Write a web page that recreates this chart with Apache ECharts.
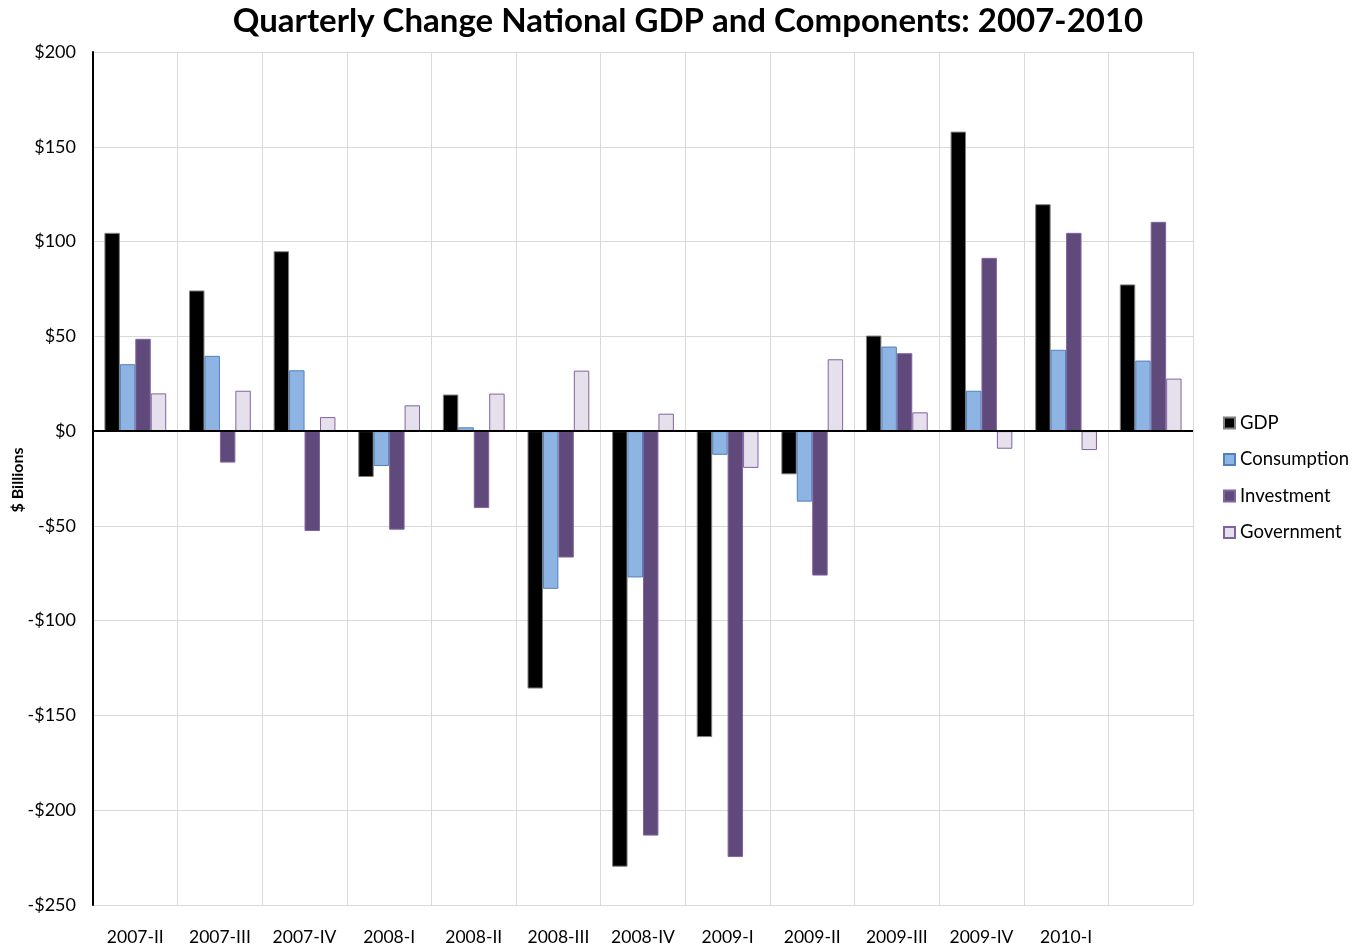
<!DOCTYPE html>
<html>
<head>
<meta charset="utf-8">
<script src="https://cdn.jsdelivr.net/npm/echarts@6/dist/echarts.min.js"></script>
<style>
html,body{margin:0;padding:0;background:#fff;}
#chart{width:1355px;height:948px;}
</style>
</head>
<body>
<div id="chart"></div>
<script>
const categories = ['2007-II','2007-III','2007-IV','2008-I','2008-II','2008-III','2008-IV','2009-I','2009-II','2009-III','2009-IV','2010-I','2010-II'];
const tickLabels = ['2007-II','2007-III','2007-IV','2008-I','2008-II','2008-III','2008-IV','2009-I','2009-II','2009-III','2009-IV','2010-I',''];
const gdp = [104.6, 74.2, 94.9, -24.2, 19.3, -135.8, -229.8, -161.4, -22.8, 50.4, 158.0, 119.7, 77.4];
const consumption = [35.3, 39.7, 32.1, -18.4, 2.0, -83.2, -77.2, -12.5, -37.2, 44.6, 21.3, 42.9, 37.2];
const investment = [48.7, -16.6, -52.7, -52.0, -40.6, -66.7, -213.4, -224.7, -76.2, 41.1, 91.4, 104.6, 110.4];
const government = [19.9, 21.3, 7.4, 13.6, 19.8, 31.9, 9.2, -19.4, 37.9, 9.9, -9.3, -10.0, 27.7];
const yAxisTitle = '$ Billions';

const FONT = 'Lato, "Open Sans", sans-serif';
const chart = echarts.init(document.getElementById('chart'));

function bar(name, data, color, border) {
  return {
    name: name, type: 'bar', data: data,
    barGap: '0%', barCategoryGap: '27%',
    itemStyle: { color: color, borderColor: border, borderWidth: 1 }
  };
}

const series = [
  bar('GDP', gdp, '#000000', '#7f7f7f'),
  bar('Consumption', consumption, '#8EB4E3', '#4F81BD'),
  bar('Investment', investment, '#604A7B', '#8064A2'),
  bar('Government', government, '#E6E0EC', '#8064A2')
];
series[0].markLine = {
  silent: true, symbol: 'none', z: 10,
  label: { show: false },
  lineStyle: { color: '#000', width: 2, type: 'solid' },
  data: [{ yAxis: 0 }]
};

chart.setOption({
  animation: false,
  backgroundColor: '#fff',
  title: {
    text: 'Quarterly Change National GDP and Components: 2007-2010',
    left: 683, top: 0, textAlign: 'center',
    textStyle: { fontFamily: FONT, fontWeight: 'bold', fontSize: 33, color: '#000' }
  },
  graphic: [{
    type: 'text', x: 18, y: 480, rotation: Math.PI / 2,
    style: {
      text: yAxisTitle, fontFamily: FONT, fontWeight: 'bold', fontSize: 16, fill: '#000',
      align: 'center', verticalAlign: 'middle'
    }
  }],
  legend: {
    orient: 'vertical', left: 1218, top: 407,
    itemWidth: 11, itemHeight: 11, itemGap: 14.5,
    icon: 'rect',
    textStyle: { fontFamily: FONT, fontSize: 18.5, color: '#000', lineHeight: 22 },
    data: ['GDP','Consumption','Investment','Government']
  },
  grid: { left: 93, right: 162, top: 52, bottom: 43, containLabel: false, outerBoundsMode: 'none' },
  xAxis: {
    type: 'category',
    data: categories,
    axisLine: { show: false },
    axisTick: { show: false, interval: 0 },
    splitLine: { show: true, interval: 0, lineStyle: { color: '#d9d9d9', width: 1 } },
    axisLabel: {
      interval: 0, margin: 23, fontFamily: FONT, fontSize: 17.5, color: '#000',
      formatter: function (v, i) { return tickLabels[i]; }
    }
  },
  yAxis: {
    type: 'value', min: -250, max: 200, interval: 50,
    axisLine: { show: true, lineStyle: { color: '#000', width: 2 } },
    axisTick: { show: false },
    splitLine: { show: true, lineStyle: { color: '#d9d9d9', width: 1 } },
    axisLabel: {
      margin: 17, fontFamily: FONT, fontSize: 18, color: '#000',
      formatter: function (v) { return v < 0 ? '-$' + Math.abs(v) : '$' + v; }
    }
  },
  series: series
});
</script>
</body>
</html>
